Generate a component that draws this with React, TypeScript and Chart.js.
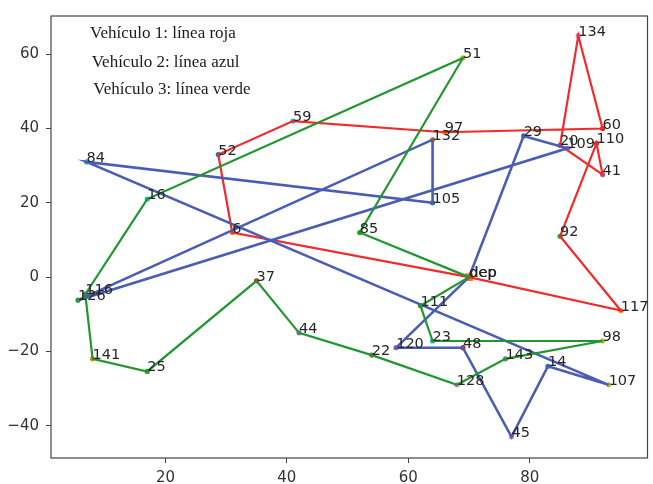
import React, { useEffect, useRef } from "react";
import { Chart, registerables } from "chart.js";

Chart.register(...registerables);

// ---- Data ----
const nodeNames = [
  "dep", "6", "52", "59", "97", "60", "134", "20", "41", "110", "92", "117",
  "29", "109", "126", "132", "105", "84", "107", "14", "45", "48", "120",
  "85", "51", "16", "116", "141", "25", "37", "44", "22", "128", "143", "98", "23", "111",
];
const nodeX = [
  70, 31, 28.7, 41, 66, 92, 88, 85, 92, 91, 85, 95,
  79, 86.2, 5.6, 64, 64, 7, 93, 83, 77, 69, 58,
  52, 69, 17, 6.8, 8, 17, 35, 42, 54, 68, 76, 92, 64, 62,
];
const nodeY = [
  0, 12, 33, 42, 39, 40, 65, 35.5, 27.6, 36, 11, -9,
  38, 34.7, -6.2, 37, 20, 31, -29, -24, -43, -19, -19,
  12, 59, 21, -4.6, -22, -25.4, -1, -15, -21, -29, -22, -17.2, -17.2, -7.7,
];
const markerColors = [
  "#ff7f0e", "#ff7f0e", "#1f77b4", "#17becf", "#ff7f0e", "#d62728", "#e377c2", "#8c564b", "#9467bd", "#d62728", "#2ca02c", "#ff7f0e",
  "#1f77b4", "#9467bd", "#2ca02c", "#ff7f0e", "#1f77b4", "#17becf", "#bcbd22", "#1f77b4", "#e377c2", "#d62728", "#9467bd",
  "#2ca02c", "#bcbd22", "#17becf", "#1f77b4", "#ff7f0e", "#2ca02c", "#d62728", "#9467bd", "#8c564b", "#e377c2", "#7f7f7f", "#bcbd22", "#17becf", "#2ca02c",
];

const route1 = ["dep", "6", "52", "59", "97", "60", "134", "20", "41", "110", "92", "117", "dep"];
const route2 = ["dep", "29", "109", "126", "132", "105", "84", "107", "14", "45", "48", "120", "dep"];
const route3 = ["dep", "85", "51", "16", "116", "141", "25", "37", "44", "22", "128", "143", "98", "23", "111", "dep"];

const legendLines = ["Vehículo 1: línea roja", "Vehículo 2: línea azul", "Vehículo 3: línea verde"];

const xTicks = [20, 40, 60, 80];
const yTicks = [-40, -20, 0, 20, 40, 60];
const xRange = [1.15, 99.4];
const yRange = [-48.7, 70.3];

// ---- Helpers ----
const routePoints = (route: string[]) =>
  route.map((n) => {
    const i = nodeNames.indexOf(n);
    return { x: nodeX[i], y: nodeY[i] };
  });

const frameAndTextPlugin = {
  id: "frameAndText",
  afterDatasetsDraw(chart: any) {
    const { ctx, chartArea, scales } = chart;
    ctx.save();
    // point labels
    ctx.fillStyle = "#262626";
    ctx.font = "14.5px 'DejaVu Sans'";
    ctx.textAlign = "left";
    ctx.textBaseline = "alphabetic";
    nodeNames.forEach((name, i) => {
      const px = scales.x.getPixelForValue(nodeX[i]);
      const py = scales.y.getPixelForValue(nodeY[i]);
      ctx.fillText(name, px, py);
      if (name === "dep") ctx.fillText(name, px + 0.6, py);
    });
    // frame
    ctx.strokeStyle = "#444";
    ctx.lineWidth = 1.2;
    ctx.strokeRect(chartArea.left, chartArea.top, chartArea.right - chartArea.left, chartArea.bottom - chartArea.top);
    // annotation text
    ctx.fillStyle = "#1a1a1a";
    ctx.font = "17px 'Liberation Serif'";
    const pos = [
      [90, 37.5],
      [91.7, 66.5],
      [93.3, 94],
    ];
    legendLines.forEach((t, i) => ctx.fillText(t, pos[i][0], pos[i][1]));
    ctx.restore();
  },
};

const minus = (v: any) => String(v).replace("-", "\u2212");

export default function App() {
  const ref = useRef<HTMLCanvasElement | null>(null);

  useEffect(() => {
    if (!ref.current) return;
    const markerIdx = nodeNames.map((_, i) => i).filter((i) => nodeNames[i] !== "dep");
    const depIdx = nodeNames.indexOf("dep");
    const lineDs = (route: string[], color: string, w: number) => ({
      data: routePoints(route),
      showLine: true,
      borderColor: color,
      borderWidth: w,
      pointRadius: 0,
      fill: false,
      tension: 0,
      order: 1,
    });
    const chart = new Chart(ref.current, {
      type: "scatter",
      data: {
        datasets: [
          lineDs(route3, "#22962f", 2.2),
          lineDs(route2, "#4a5cb5", 2.6),
          lineDs(route1, "#f22a2a", 2.2),
          {
            data: markerIdx.map((i) => ({ x: nodeX[i], y: nodeY[i] })),
            pointRadius: 2.6,
            pointBorderWidth: 0,
            pointBackgroundColor: markerIdx.map((i) => markerColors[i]),
            order: 2,
          } as any,
          {
            data: [{ x: nodeX[depIdx], y: nodeY[depIdx] }],
            pointStyle: "rect",
            pointRadius: 5.5,
            pointBorderWidth: 0,
            pointBackgroundColor: markerColors[depIdx],
            order: 2,
          } as any,
        ],
      },
      options: {
        responsive: false,
        animation: false,
        layout: { padding: { top: 10, right: 4, left: 0, bottom: 0 } },
        plugins: { legend: { display: false }, tooltip: { enabled: false } },
        scales: {
          x: {
            type: "linear",
            min: xRange[0],
            max: xRange[1],
            afterBuildTicks: (s: any) => {
              s.ticks = xTicks.map((v) => ({ value: v }));
            },
            afterFit: (s: any) => {
              s.height = 26;
            },
            grid: { drawOnChartArea: false, drawTicks: true, tickLength: 5, color: "#444" },
            border: { display: false },
            ticks: {
              padding: 6,
              color: "#333",
              font: { family: "'DejaVu Sans'", size: 15 },
              callback: minus,
              maxRotation: 0,
            },
          },
          y: {
            type: "linear",
            min: yRange[0],
            max: yRange[1],
            afterBuildTicks: (s: any) => {
              s.ticks = yTicks.map((v) => ({ value: v }));
            },
            afterFit: (s: any) => {
              s.width = 51;
            },
            grid: { drawOnChartArea: false, drawTicks: true, tickLength: 5, color: "#444" },
            border: { display: false },
            ticks: {
              padding: 7,
              color: "#333",
              font: { family: "'DejaVu Sans'", size: 15 },
              callback: minus,
            },
          },
        },
      },
      plugins: [frameAndTextPlugin],
    });
    return () => chart.destroy();
  }, []);

  return (
    <div style={{ position: "fixed", left: 0, top: 0, width: 653, height: 484, background: "#fff" }}>
      <canvas ref={ref} width={653} height={484} style={{ display: "block" }} />
    </div>
  );
}
